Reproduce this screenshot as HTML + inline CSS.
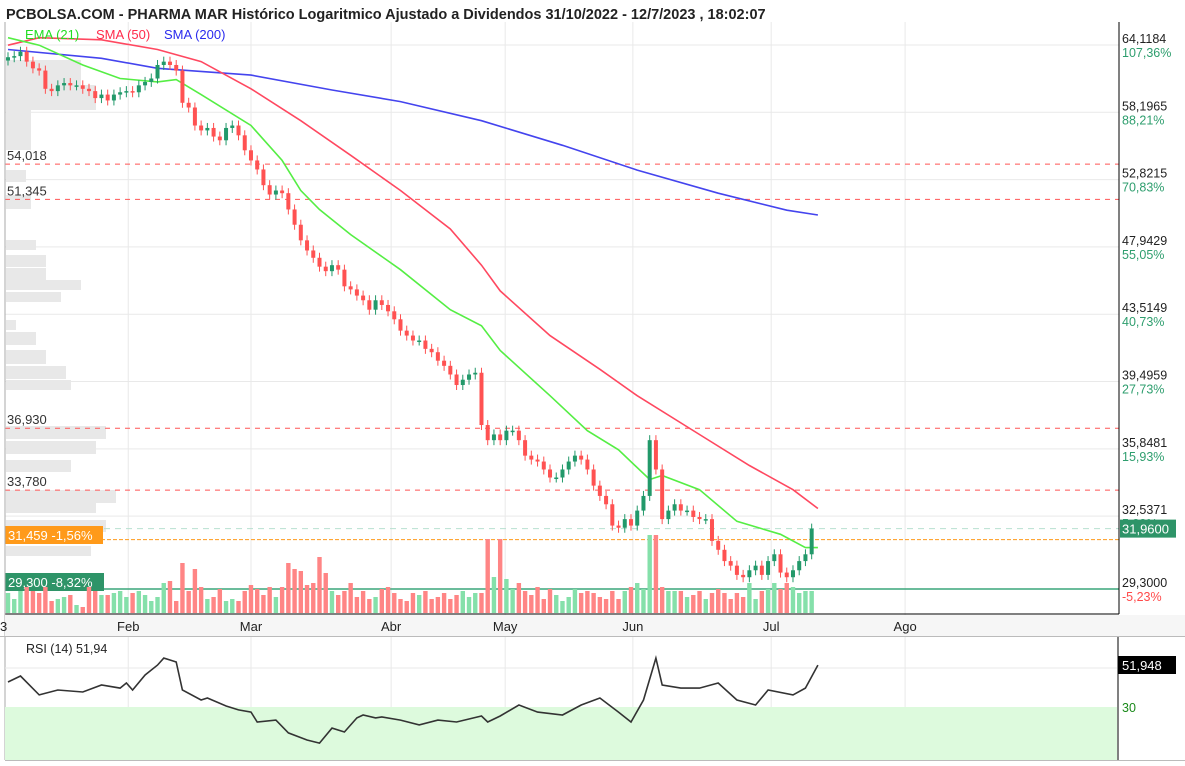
<!DOCTYPE html>
<html><head><meta charset="utf-8">
<style>
html,body{margin:0;padding:0;background:#fff;}
svg{display:block;font-family:"Liberation Sans",sans-serif;}
</style></head>
<body>
<svg id="chart" width="1185" height="766" viewBox="0 0 1185 766">
<rect x="0" y="0" width="1185" height="766" fill="#fff"/>
<text x="6" y="19" font-size="14.5" font-weight="bold" fill="#222">PCBOLSA.COM - PHARMA MAR Histórico Logaritmico Ajustado a Dividendos 31/10/2022 - 12/7/2023 , 18:02:07</text>
<g id="grid"></g>
<g id="profile"></g>
<g id="levels"></g>
<g id="vols"></g>
<g id="lines"></g>
<g id="candles"></g>
<g>
<text x="25" y="39" font-size="13" fill="#22dd22">EMA (21)</text>
<text x="96" y="39" font-size="13" fill="#ff2a4a">SMA (50)</text>
<text x="164" y="39" font-size="13" fill="#2a2aee">SMA (200)</text>
</g>
<line x1="1119" y1="22" x2="1119" y2="614" stroke="#000"/>
<line x1="5" y1="614" x2="1119" y2="614" stroke="#000"/>
<line x1="5" y1="22" x2="5" y2="760" stroke="#aaa"/>
<rect x="5" y="615" width="1180" height="21" fill="#f6f6f6"/>
<line x1="0" y1="636.5" x2="1185" y2="636.5" stroke="#bbb"/>
<g id="yaxis"></g>
<g id="xaxis"></g>
<g id="rsi"></g>
</svg>
<script>
// ---- data ----
const closes = [63.0,63.1,63.5,62.6,62.0,61.8,60.2,60.0,60.5,60.7,60.5,60.5,60.2,60.0,59.4,59.7,59.2,59.7,59.9,
60.0,59.9,60.5,60.8,61.1,62.3,62.6,62.3,61.8,59.0,58.6,57.1,56.7,56.9,56.2,55.9,56.9,57.1,56.3,55.1,
54.3,53.6,52.4,51.7,52.0,51.8,50.6,49.5,48.4,47.7,47.2,46.6,46.3,46.7,46.4,45.3,45.1,44.7,44.4,43.8,44.4,44.1,
43.7,43.2,42.5,42.2,41.9,41.9,41.4,41.2,40.7,40.4,39.9,39.3,39.6,39.9,40.0,37.1,36.3,36.6,
36.3,36.8,36.8,36.3,35.5,35.3,35.2,34.8,34.4,34.4,34.8,35.2,35.5,35.3,34.8,34.0,33.5,33.1,32.1,32.0,32.4,
32.1,32.8,33.5,36.3,34.8,32.4,32.8,33.1,32.8,32.8,32.5,32.4,32.4,31.4,31.0,30.5,30.3,29.9,29.8,30.1,30.3,29.9,
30.5,30.8,30.0,29.8,30.1,30.5,30.8,31.96];
const firstOpen = 62.7;
const volumes = [20,14,22,26,22,20,26,12,14,16,18,8,6,26,22,18,18,20,22,
16,20,22,18,12,16,30,32,12,50,22,44,26,14,16,24,12,14,12,22,
28,24,18,26,16,26,50,44,42,28,30,56,40,22,18,22,30,16,22,14,16,24,
26,20,14,12,20,18,22,14,16,20,14,18,22,16,20,20,74,36,
74,34,24,30,22,18,26,14,24,18,12,16,24,20,22,20,16,14,22,14,22,
26,30,24,78,78,26,22,22,22,16,18,22,14,20,24,20,14,20,16,30,14,22,
24,30,24,30,26,20,22,22];
const sma200Idx = [0,15,24,39,52,63,76,89,101,114,125,130];
const sma200Val = [63.7,62.9,62.0,61.4,60.1,59.1,57.5,55.5,53.55,51.8,50.55,50.2];
const sma50Idx = [0,5,15,24,31,39,47,55,63,71,76,79,87,95,101,111,119,126,130];
const sma50Val = [64.1,64.8,64.6,63.7,62.6,60.2,57.5,54.7,52.0,49.2,46.7,45.0,42.2,40.2,38.7,36.6,35.0,33.8,32.9];
const ema21Idx = [0,5,12,18,24,27,31,39,44,47,50,55,63,71,76,79,87,93,98,103,105,111,117,124,128,130];
const ema21Val = [64.8,64.1,62.3,61.1,60.8,61.0,59.7,57.1,54.3,52.0,50.6,48.8,46.4,43.8,42.8,41.3,38.7,36.8,35.8,34.3,34.5,33.8,32.3,31.7,31.1,31.1];
const rsiIdx = [0,2,5,8,12,15,18,19,20,22,24,25,26,27,28,31,32,35,37,39,40,43,45,48,50,52,54,56,57,59,60,63,66,69,72,76,77,79,82,85,89,92,95,98,100,102,104,105,108,111,114,117,120,122,126,128,130];
const rsiVal = [42.8,45.9,36.2,38.7,37.7,41.3,39.7,42.3,38.7,46.4,51.5,55.1,54.1,53.1,38.7,33.6,34.6,30.5,28.5,27.4,22.3,23.3,16.7,13.1,11.5,19.2,17.2,24.4,25.9,24.4,24.9,23.3,20.8,23.3,22.3,25.4,22.3,25.4,31.0,27.4,25.9,31.0,34.6,27.4,22.3,33.6,55.1,41.3,39.7,39.7,42.3,33.6,31.0,38.7,36.2,39.7,51.5];
const priceTicks = [64.1184,58.1965,52.8215,47.9429,43.5149,39.4959,35.8481,32.5371,29.3000];
const tickLabels = ['64,1184','58,1965','52,8215','47,9429','43,5149','39,4959','35,8481','32,5371','29,3000'];
const pctLabels = ['107,36%','88,21%','70,83%','55,05%','40,73%','27,73%','15,93%','5,33%','-5,23%'];
const months = ['Feb','Mar','Abr','May','Jun','Jul','Ago'];
const monthIdx = [19.3,39,61.5,79.8,100.3,122.5,144];
const levelVals = [54.018,51.345,36.930,33.780];
const levelLabels = ['54,018','51,345','36,930','33,780'];
const profY = [60,85,110,130,170,195,240,255,268,280,292,320,332,350,366,380,426,441,460,490,503,520,546];
const profH = [25,25,20,20,12,14,10,12,12,10,10,10,13,14,13,10,13,13,12,13,10,12,10];
const profW = [75,90,25,25,20,25,30,40,40,75,55,10,30,40,60,65,100,90,65,110,90,100,85];

// ---- scales ----
const NS='http://www.w3.org/2000/svg';
const LTOP=Math.log(64.1184);
function y(p){return 45+694.6*(LTOP-Math.log(p));}
function x(i){return 8+i*6.23;}
function vy(v){return 613-v*1.0;}
function ry(r){return 668-(r-50)*1.95;}
function mk(tag,attrs,parent){const e=document.createElementNS(NS,tag);for(const k in attrs)e.setAttribute(k,attrs[k]);parent.appendChild(e);return e;}
const G=id=>document.getElementById(id);

// grid
const grid=G('grid');
priceTicks.forEach(t=>{const l=mk('line',{x1:5,x2:1119,y1:y(t),y2:y(t),stroke:'#e9e9e9'},grid);

});
monthIdx.forEach(m=>{const l=mk('line',{x1:x(m),x2:x(m),y1:22,y2:760,stroke:'#e9e9e9'},grid);

});

// profile
const prof=G('profile');
profY.forEach((py,i)=>{const r=mk('rect',{x:6,y:py,width:profW[i],height:profH[i],fill:'#e8e8e8'},prof);

});

// levels
const lv=G('levels');
levelVals.forEach((v,i)=>{const l=mk('line',{x1:5,x2:1119,y1:y(v),y2:y(v),stroke:'#ff5555','stroke-dasharray':'5,5'},lv);


const t=mk('text',{x:7,y:y(v)-4,'font-size':13,fill:'#333'},lv);t.textContent=levelLabels[i];

});
const last=closes[closes.length-1];
let e=mk('line',{x1:5,x2:1119,y1:y(last),y2:y(last),stroke:'#b8e0d0','stroke-dasharray':'6,5'},lv);


e=mk('line',{x1:5,x2:1119,y1:y(31.459),y2:y(31.459),stroke:'#ff9a1a','stroke-dasharray':'4,2'},lv);


e=mk('line',{x1:5,x2:1119,y1:y(29.3),y2:y(29.3),stroke:'#3aa57a','stroke-width':1.5},lv);



// volumes
const vg=G('vols');
closes.forEach((c,i)=>{const o=i?closes[i-1]:firstOpen;const up=c>=o;
const r=mk('rect',{x:x(i)-2.2,y:vy(volumes[i]),width:4.4,height:613-vy(volumes[i]),fill:up?'#85e0aa':'#ff8585'},vg);

});

// boxes
e=mk('rect',{x:5,y:526,width:98,height:18,fill:'#ff9a1a'},lv);


e=mk('text',{x:8,y:540,'font-size':13,fill:'#fff'},lv);e.textContent='31,459  -1,56%';


e=mk('rect',{x:5,y:573,width:99,height:18,fill:'#2e9468'},lv);


e=mk('text',{x:8,y:587,'font-size':13,fill:'#fff'},lv);e.textContent='29,300  -8,32%';



// moving averages
const lg=G('lines');
function path(idx,vals,fy){return idx.map((k,i)=>(i?'L':'M')+x(k).toFixed(1)+','+fy(vals[i]).toFixed(1)).join(' ');}
e=mk('path',{d:path(sma200Idx,sma200Val,y),fill:'none',stroke:'#4444ee','stroke-width':1.6},lg);


e=mk('path',{d:path(sma50Idx,sma50Val,y),fill:'none',stroke:'#ff4860','stroke-width':1.6},lg);


e=mk('path',{d:path(ema21Idx,ema21Val,y),fill:'none',stroke:'#55ee44','stroke-width':1.6},lg);



// candles
const cg=G('candles');
closes.forEach((c,i)=>{const o=i?closes[i-1]:firstOpen;const up=c>=o;const col=up?'#22996a':'#ff5252';
const top=Math.min(y(o),y(c)),bot=Math.max(y(o),y(c));
const w=mk('line',{x1:x(i),x2:x(i),y1:top-5,y2:bot+5,stroke:col},cg);


const b=mk('rect',{x:x(i)-2,y:top,width:4,height:Math.max(1.5,bot-top),fill:col},cg);

});

// y axis
const ya=G('yaxis');
priceTicks.forEach((t,i)=>{const tt=mk('text',{x:1122,y:y(t)-2,'font-size':12.5,fill:'#222'},ya);tt.textContent=tickLabels[i];


const p=mk('text',{x:1122,y:y(t)+12,'font-size':12.5,fill:i==priceTicks.length-1?'#ff4a4a':'#2e9e6e'},ya);p.textContent=pctLabels[i];

});
e=mk('rect',{x:1120,y:y(last)-9,width:56,height:18,fill:'#2e9468'},ya);


e=mk('text',{x:1122,y:y(last)+5,'font-size':13,fill:'#fff'},ya);e.textContent='31,9600';



// x axis
const xa=G('xaxis');
e=mk('text',{x:0,y:631,'font-size':13,fill:'#222'},xa);e.textContent='3';


months.forEach((m,i)=>{const t=mk('text',{x:x(monthIdx[i]),y:631,'font-size':13,fill:'#222','text-anchor':'middle'},xa);t.textContent=m;

});

// RSI
const rg=G('rsi');
e=mk('rect',{x:5,y:ry(30),width:1112,height:760-ry(30),fill:'#ddfadd'},rg);


e=mk('line',{x1:5,x2:1117,y1:ry(50),y2:ry(50),stroke:'#e9e9e9'},rg);


e=mk('path',{d:path(rsiIdx,rsiVal,ry),fill:'none',stroke:'#333','stroke-width':1.6},rg);


e=mk('line',{x1:1118,x2:1118,y1:637,y2:760,stroke:'#000'},rg);


e=mk('line',{x1:5,x2:1185,y1:760.5,y2:760.5,stroke:'#bbb'},rg);


e=mk('text',{x:26,y:653,'font-size':12.5,fill:'#222'},rg);e.textContent='RSI (14)    51,94';


e=mk('rect',{x:1118,y:656,width:58,height:18,fill:'#000'},rg);


e=mk('text',{x:1122,y:670,'font-size':13,fill:'#fff'},rg);e.textContent='51,948';


e=mk('text',{x:1122,y:712,'font-size':12.5,fill:'#1a8a1a'},rg);e.textContent='30';


</script>
</body></html>
